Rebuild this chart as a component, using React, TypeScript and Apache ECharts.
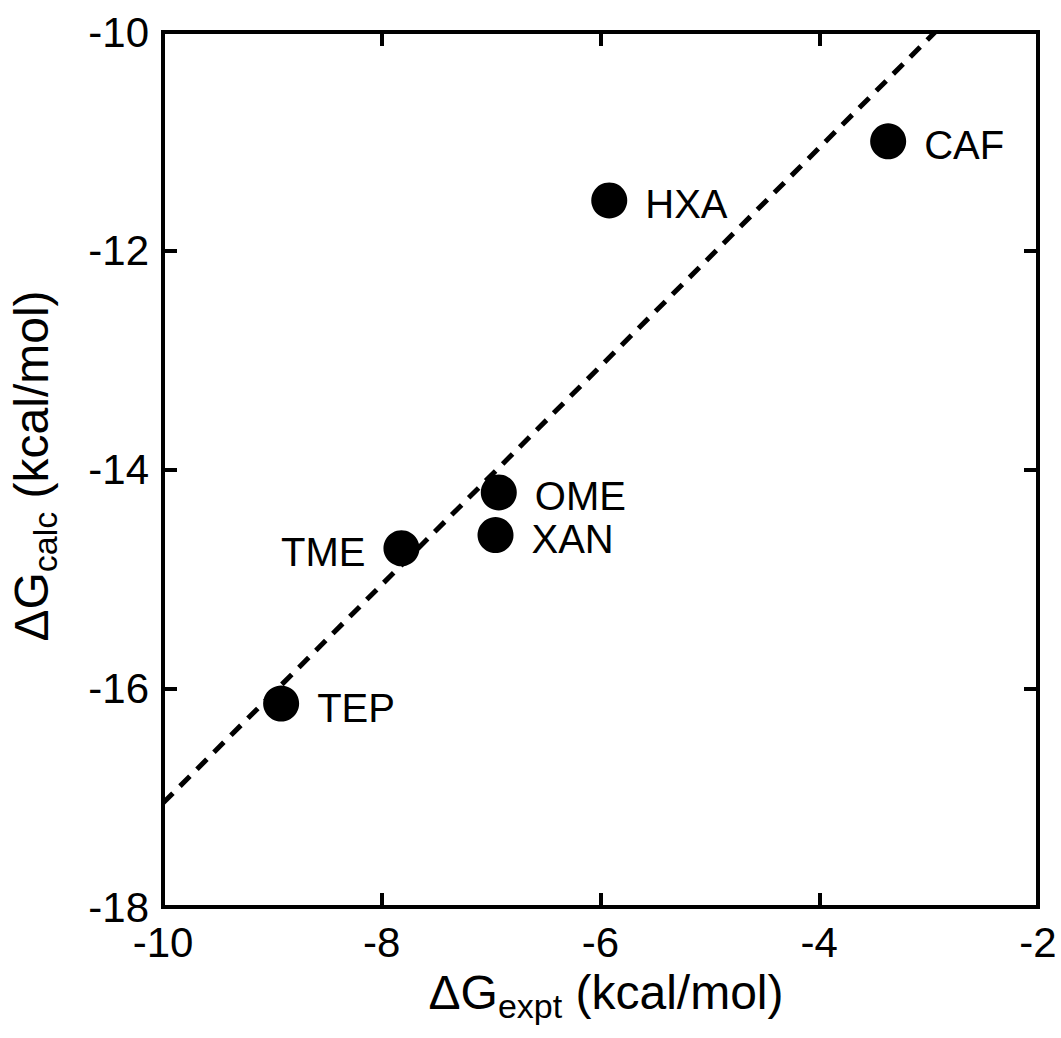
import React, { useEffect, useRef } from "react";
import * as echarts from "echarts";

const names = ["CAF", "HXA", "OME", "XAN", "TME", "TEP"];
const exptValues = [-3.37, -5.92, -6.93, -6.96, -7.82, -8.92];
const calcValues = [-11.0, -11.54, -14.21, -14.6, -14.72, -16.14];
const labelSides = ["right", "right", "right", "right", "left", "right"];
const fitX = [-10, -2.94];
const fitY = [-17.05, -10];

const FONT = "Liberation Sans, Arial, Helvetica, sans-serif";

export default function App() {
  const ref = useRef<HTMLDivElement>(null);
  useEffect(() => {
    if (!ref.current) return;
    const chart = echarts.init(ref.current, null, { renderer: "svg" });
    const axisCommon = {
      type: "value",
      interval: 2,
      axisLine: { show: false },
      axisTick: { show: true, inside: true, length: 14, lineStyle: { color: "#000", width: 4 } },
      splitLine: { show: false },
    };
    const labelStyle = { color: "#000", fontSize: 42, lineHeight: 34, fontFamily: FONT };
    const rich = {
      a: { fontSize: 48, lineHeight: 40, fontFamily: FONT, color: "#000" },
      s: { fontSize: 34, lineHeight: 26, padding: [28, 0, 0, 0], fontFamily: FONT, color: "#000" },
    };
    chart.setOption({
      animation: false,
      backgroundColor: "#fff",
      grid: {
        left: 163,
        top: 32,
        width: 875,
        height: 875,
        show: true,
        borderColor: "#000",
        borderWidth: 4,
        backgroundColor: "transparent",
      },
      xAxis: [
        { ...axisCommon, min: -10, max: -2, position: "bottom", axisLabel: { ...labelStyle, margin: 18 } },
        { ...axisCommon, min: -10, max: -2, position: "top", axisLabel: { show: false } },
      ],
      yAxis: [
        { ...axisCommon, min: -18, max: -10, position: "left", axisLabel: { ...labelStyle, margin: 14 } },
        { ...axisCommon, min: -18, max: -10, position: "right", axisLabel: { show: false } },
      ],
      graphic: [
        {
          type: "text",
          x: 606,
          y: 992,
          style: {
            text: "{a|ΔG}{s|expt}{a| (kcal/mol)}",
            rich,
            align: "center",
            verticalAlign: "middle",
          },
        },
        {
          type: "text",
          x: 31,
          y: 466,
          rotation: Math.PI / 2,
          style: {
            text: "{a|ΔG}{s|calc}{a| (kcal/mol)}",
            rich,
            align: "center",
            verticalAlign: "middle",
          },
        },
      ],
      series: [
        {
          type: "line",
          data: fitX.map((x, i) => [x, fitY[i]]),
          symbol: "none",
          lineStyle: { color: "#000", width: 5, type: [14, 10] },
          z: 2,
        },
        {
          type: "scatter",
          symbol: "circle",
          symbolSize: 36,
          itemStyle: { color: "#000", opacity: 1 },
          z: 3,
          data: names.map((n, i) => ({
            name: n,
            value: [exptValues[i], calcValues[i]],
            label: { position: labelSides[i] },
          })),
          label: {
            show: true,
            formatter: "{b}",
            distance: 18,
            offset: [0, 4],
            color: "#000",
            fontSize: 40,
            fontFamily: FONT,
          },
        },
      ],
    });
    return () => chart.dispose();
  }, []);
  return (
    <div
      ref={ref}
      style={{ position: "fixed", left: 0, top: 0, width: 1061, height: 1038, background: "#fff" }}
    />
  );
}
